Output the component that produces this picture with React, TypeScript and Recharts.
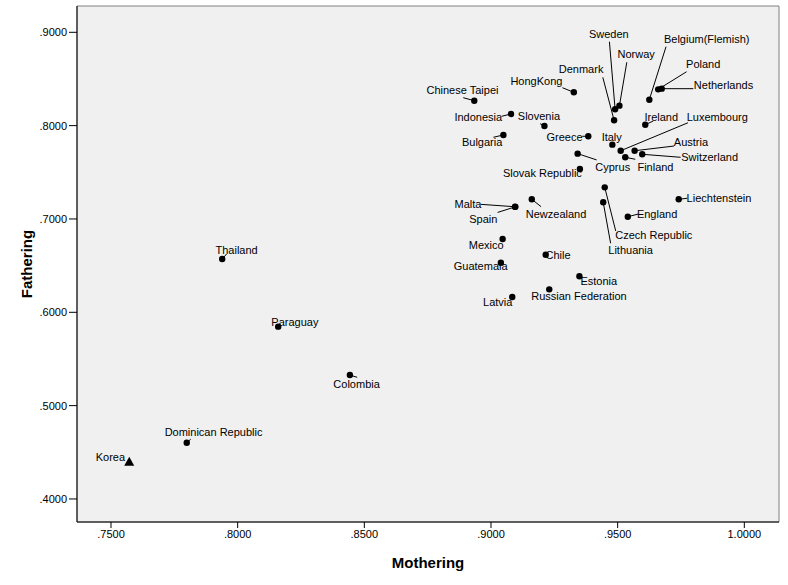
import { ScatterChart, Scatter, XAxis, YAxis, CartesianGrid, ReferenceArea } from "recharts"

const countries = [
  "Dominican Republic", "Thailand", "Paraguay", "Colombia", "Chinese Taipei", "HongKong",
  "Indonesia", "Slovenia", "Bulgaria", "Greece", "Denmark", "Italy", "Cyprus", "Sweden",
  "Norway", "Belgium(Flemish)", "Poland", "Netherlands", "Ireland", "Luxembourg", "Austria",
  "Switzerland", "Finland", "Slovak Republic", "Czech Republic", "Lithuania", "England",
  "Liechtenstein", "Malta", "Spain", "Newzealand", "Mexico", "Chile", "Guatemala", "Estonia",
  "Russian Federation", "Latvia",
]
const mothering = [
  0.7799, 0.7939, 0.816, 0.8443, 0.8934, 0.9327,
  0.9079, 0.9211, 0.9049, 0.9384, 0.9486, 0.9479, 0.9342, 0.949,
  0.9507, 0.9625, 0.966, 0.9674, 0.9609, 0.9512, 0.9567,
  0.9597, 0.953, 0.9351, 0.9449, 0.9443, 0.954,
  0.9741, 0.9095, 0.9096, 0.9161, 0.9046, 0.9216, 0.9039, 0.9349,
  0.923, 0.9084,
]
const fathering = [
  0.4603, 0.6571, 0.5846, 0.5328, 0.8267, 0.8357,
  0.8125, 0.7996, 0.79, 0.7886, 0.8057, 0.7796, 0.77, 0.8175,
  0.8214, 0.8278, 0.8389, 0.8396, 0.801, 0.7731, 0.7731,
  0.7693, 0.7661, 0.7535, 0.7339, 0.7179, 0.7024,
  0.7211, 0.7131, 0.713, 0.7211, 0.6785, 0.6617, 0.6531, 0.6386,
  0.6246, 0.6164,
]
const koreaName = "Korea"
const koreaMothering = 0.7572
const koreaFathering = 0.4399

const xTicks = [0.75, 0.8, 0.85, 0.9, 0.95, 1.0]
const yTicks = [0.4, 0.5, 0.6, 0.7, 0.8, 0.9]
const xDomain = [0.73658, 1.01369]
const yDomain = [0.37532, 0.92818]

// label placement: [dx, dy, leaderX, leaderY] relative to the dot, in px
const labelLayout: Record<string, number[]> = {
  "Korea": [-18.8, -4.4],
  "Dominican Republic": [26.8, -11, 4, -3.5],
  "Thailand": [14.4, -8.7, 4.4, -5],
  "Paraguay": [16.7, -4.4],
  "Colombia": [6.7, 9, 7.3, 2.3],
  "Chinese Taipei": [-11.8, -10.4, -11, -3],
  "HongKong": [-37.4, -11.3, -11.4, -4.6],
  "Indonesia": [-32.7, 2.7, -9.3, 2.3],
  "Slovenia": [-5.5, -9.7, -4.3, -2.3],
  "Bulgaria": [-21.3, 7.3, -10, 2.3],
  "Greece": [-23.8, 0.4, -6, 0],
  "Denmark": [-33, -51, -11.3, -43],
  "Italy": [-0.6, -8],
  "Cyprus": [35.1, 13.6, 19, 6.3],
  "Sweden": [-6.3, -75.6, -5.7, -67.6],
  "Norway": [16.7, -51.7, 7.4, -43.4],
  "Belgium(Flemish)": [57.4, -61, 16.7, -53],
  "Poland": [45, -25.3, 28.4, -17.6],
  "Netherlands": [61.8, -3.4, 31.6, 0],
  "Ireland": [16, -8, 8, -3.7],
  "Luxembourg": [96.6, -34, 67.3, -28],
  "Austria": [56.3, -8.7, 39.3, -4.7],
  "Switzerland": [67.4, 2.4, 38.4, 3],
  "Finland": [30.2, 9.4, 10, 2],
  "Slovak Republic": [-37.5, 4.3],
  "Czech Republic": [49.1, 48, 11, 43.7],
  "Lithuania": [27.4, 47.7, 7.4, 41],
  "England": [29.3, -2.7, 10.6, -2.7],
  "Liechtenstein": [40.3, -1, 8.6, -1],
  "Malta": [-47, -2.4, -34.3, -2.4],
  "Spain": [-32, 12.6, -17.7, 5.6],
  "Newzealand": [24.3, 14.7, 9.3, 7.4],
  "Mexico": [-16.4, 6.3],
  "Chile": [12.3, 0.6],
  "Guatemala": [-20.2, 3.6],
  "Estonia": [19.4, 4.7],
  "Russian Federation": [29.7, 7],
  "Latvia": [-14.5, 5.3],
}

const font = "'Liberation Sans', Arial, sans-serif"

const data = countries.map((name, i) => ({ name, x: mothering[i], y: fathering[i] }))
const koreaData = [{ name: koreaName, x: koreaMothering, y: koreaFathering }]

const fmt = (v: number) => v.toFixed(4).replace(/^0/, "")

const Label = ({ cx, cy, name }: any) => {
  const l = labelLayout[name] || [0, -10]
  return (
    <g>
      {l.length > 2 && <line x1={cx} y1={cy} x2={cx + l[2]} y2={cy + l[3]} stroke="#000" strokeWidth={1} />}
      <text x={cx + l[0]} y={cy + l[1]} textAnchor="middle" dominantBaseline="central" fontSize={11} fontFamily={font} fill="#000">
        {name}
      </text>
    </g>
  )
}

const Dot = (props: any) => {
  const { cx, cy, payload } = props
  return (
    <g>
      <Label cx={cx} cy={cy} name={payload.name} />
      <circle cx={cx} cy={cy} r={3.2} fill="#000" />
    </g>
  )
}

const Triangle = (props: any) => {
  const { cx, cy, payload } = props
  return (
    <g>
      <Label cx={cx} cy={cy} name={payload.name} />
      <polygon points={`${cx},${cy - 5} ${cx - 5},${cy + 4} ${cx + 5},${cy + 4}`} fill="#000" />
    </g>
  )
}

export default function App() {
  return (
    <div style={{ position: "absolute", left: 0, top: 0, background: "#fff" }}>
      <ScatterChart width={788} height={585} margin={{ top: 6, right: 9, bottom: 0, left: 0 }}>
        <CartesianGrid fill="#f0f0f0" fillOpacity={1} horizontal={false} vertical={false} />
        <ReferenceArea x1={xDomain[0]} x2={xDomain[1]} y1={yDomain[0]} y2={yDomain[1]} fill="none" stroke="#808080" strokeWidth={1} />
        <XAxis
          type="number"
          dataKey="x"
          domain={xDomain}
          ticks={xTicks}
          allowDataOverflow
          tickFormatter={fmt}
          height={63}
          tickSize={6}
          tick={{ fontSize: 11, fill: "#000", fontFamily: font }}
          axisLine={{ stroke: "#000" }}
          tickLine={{ stroke: "#000" }}
          label={{ value: "Mothering", position: "insideBottom", offset: 17, style: { fontSize: 15, fontWeight: "bold", fill: "#000", fontFamily: font } }}
        />
        <YAxis
          type="number"
          dataKey="y"
          domain={yDomain}
          ticks={yTicks}
          allowDataOverflow
          tickFormatter={fmt}
          width={77}
          tickSize={8}
          tick={{ fontSize: 11, fill: "#000", fontFamily: font }}
          axisLine={{ stroke: "#000" }}
          tickLine={{ stroke: "#000" }}
          label={{ value: "Fathering", angle: -90, position: "insideLeft", offset: 27, style: { textAnchor: "middle", fontSize: 15, fontWeight: "bold", fill: "#000", fontFamily: font } }}
        />
        <Scatter data={data} shape={Dot} isAnimationActive={false} />
        <Scatter data={koreaData} shape={Triangle} isAnimationActive={false} />
      </ScatterChart>
    </div>
  )
}
